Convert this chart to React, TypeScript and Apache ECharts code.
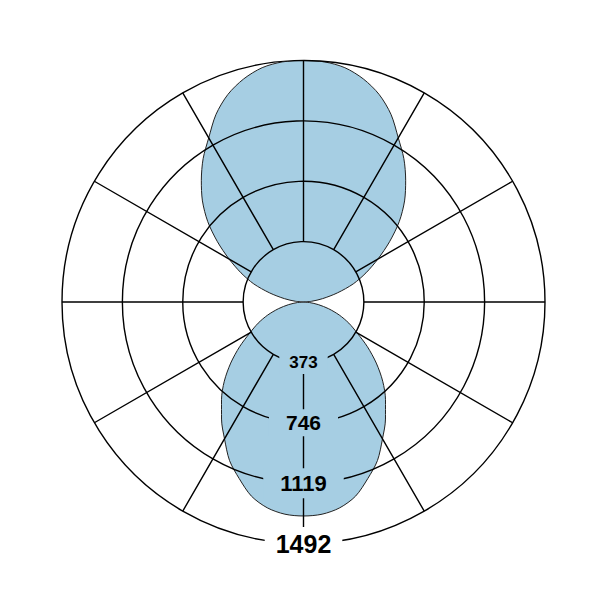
import React, { useEffect, useRef } from "react";
import * as echarts from "echarts";

// Angle of each sample (degrees, counter-clockwise from the right)
const ANGLES = [
  0, 5, 10, 15, 20, 25, 30, 35, 40, 45, 50, 55, 60, 65, 70, 75, 80, 85, 90,
  95, 100, 105, 110, 115, 120, 125, 130, 135, 140, 145, 150, 155, 160, 165, 170, 175, 180,
  185, 190, 195, 200, 205, 210, 215, 220, 225, 230, 235, 240, 245, 250, 255, 260, 265, 270,
  275, 280, 285, 290, 295, 300, 305, 310, 315, 320, 325, 330, 335, 340, 345, 350, 355, 360,
];
// Radial value at each angle
const VALUES = [
  0, 49, 120, 216, 327, 426, 531, 649, 772, 883, 982, 1081, 1171, 1279, 1365, 1427, 1470, 1489, 1492,
  1489, 1470, 1427, 1365, 1279, 1171, 1081, 982, 883, 772, 649, 531, 426, 327, 216, 120, 49, 0,
  37, 93, 161, 235, 309, 383, 482, 587, 692, 788, 883, 976, 1081, 1161, 1242, 1291, 1316, 1322,
  1316, 1291, 1242, 1161, 1081, 976, 883, 788, 692, 587, 482, 383, 309, 235, 161, 93, 37, 0,
];
const RADIUS_TICKS = [373, 746, 1119, 1492];
const RADIUS_MAX = 1492;
const RADIUS_STEP = 373;
const SPOKE_STEP = 30;

export default function App() {
  const ref = useRef<HTMLDivElement>(null);

  useEffect(() => {
    if (!ref.current) return;
    const chart = echarts.init(ref.current, undefined, { renderer: "svg" });
    const cx = 303.5;
    const cy = 302;
    const R = 241.5;
    const grid = { color: "#000", width: 1.4 };
    const font = "'Liberation Sans', Arial, Helvetica, sans-serif";
    const blue = "#a6cee3";

    chart.setOption({
      animation: false,
      backgroundColor: "#ffffff",
      polar: [
        { center: [cx, cy], radius: [0, R] },
        { center: [cx, cy], radius: [R / 4, R] },
      ],
      angleAxis: [
        {
          polarIndex: 0,
          type: "value",
          min: 0,
          max: 360,
          startAngle: 0,
          clockwise: false,
          show: false,
        },
        {
          polarIndex: 1,
          type: "value",
          min: 0,
          max: 360,
          interval: SPOKE_STEP,
          startAngle: 270,
          z: 3,
          axisLine: { show: false },
          axisTick: { show: false },
          axisLabel: { show: false },
          splitLine: { show: true, lineStyle: grid },
        },
      ],
      radiusAxis: [
        {
          polarIndex: 0,
          type: "value",
          min: 0,
          max: RADIUS_MAX,
          interval: RADIUS_STEP,
          z: 3,
          axisLine: { show: false },
          axisTick: { show: false },
          axisLabel: { show: false },
          splitLine: { show: true, lineStyle: grid },
        },
        {
          polarIndex: 1,
          type: "value",
          min: RADIUS_TICKS[0],
          max: RADIUS_MAX,
          interval: RADIUS_STEP,
          z: 6,
          axisLine: { show: false },
          axisTick: { show: false },
          splitLine: { show: false },
          axisLabel: {
            show: true,
            margin: 0,
            align: "center",
            verticalAlign: "middle",
            showMinLabel: true,
            showMaxLabel: true,
            formatter: (v: number) => {
              const i = RADIUS_TICKS.indexOf(Math.round(v));
              return i < 0 ? "" : `{t${i}|${Math.round(v)}}`;
            },
            rich: {
              t0: { fontSize: 17, fontWeight: "bold", fontFamily: font, color: "#000", backgroundColor: blue, padding: [3, 10] },
              t1: { fontSize: 21, fontWeight: "bold", fontFamily: font, color: "#000", backgroundColor: blue, padding: [3, 17] },
              t2: { fontSize: 22, fontWeight: "bold", fontFamily: font, color: "#000", backgroundColor: blue, padding: [4, 17] },
              t3: { fontSize: 25, fontWeight: "bold", fontFamily: font, color: "#000", backgroundColor: "#ffffff", padding: [4, 11] },
            },
          },
        },
      ],
      series: [
        {
          type: "line",
          coordinateSystem: "polar",
          polarIndex: 0,
          data: ANGLES.map((a, i) => [VALUES[i], a]),
          smooth: 0.3,
          symbol: "none",
          clip: false,
          z: 1,
          lineStyle: { color: "#222", width: 1 },
          areaStyle: { color: blue, opacity: 1 },
        },
      ],
    });
    return () => chart.dispose();
  }, []);

  return (
    <div
      ref={ref}
      style={{ position: "fixed", left: 0, top: 0, width: 601, height: 601 }}
    />
  );
}
